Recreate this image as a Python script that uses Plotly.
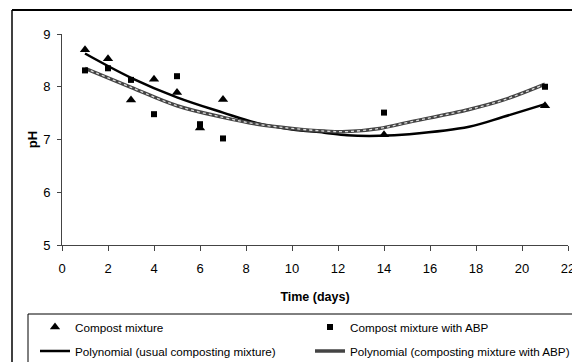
import plotly.graph_objects as go

# ---- data ----
days = [1, 2, 3, 4, 5, 6, 7, 14, 21]
ph_compost = [8.70, 8.53, 7.75, 8.14, 7.89, 7.22, 7.76, 7.09, 7.64]
ph_abp = [8.31, 8.35, 8.13, 7.48, 8.20, 7.29, 7.02, 7.51, 8.00]

trend_x = [1, 3, 5, 7, 8.5, 10, 11.4, 12.4, 13.8, 15.1, 17.7, 19.2, 21]
trend_usual = [8.63, 8.17, 7.80, 7.51, 7.31, 7.19, 7.13, 7.08, 7.07, 7.10, 7.24, 7.43, 7.67]
trend_abp = [8.35, 7.99, 7.64, 7.42, 7.29, 7.21, 7.16, 7.15, 7.21, 7.33, 7.57, 7.75, 8.05]

x_ticks = list(range(0, 23, 2))
y_ticks = [5, 6, 7, 8, 9]
grid_vals = [6, 7, 8]

# ---- layout geometry ----
W, H = 572, 362
L, R, T, B = 62, 4, 34, 117
PW = W - L - R
PH = H - T - B


def px(x):
    return (x - L) / PW


def py(y):
    return (H - B - y) / PH


FONT = "Liberation Sans, Arial, sans-serif"

fig = go.Figure()
fig.add_trace(go.Scatter(
    x=trend_x, y=trend_usual, mode="lines",
    name="Polynomial (usual composting mixture)",
    line=dict(color="black", width=2.5, shape="spline"),
    legend="legend2"))
fig.add_trace(go.Scatter(
    x=trend_x, y=trend_abp, mode="lines",
    name="Polynomial (composting mixture with ABP)",
    line=dict(color="#444444", width=3.5, shape="spline"),
    legend="legend2"))
fig.add_trace(go.Scatter(
    x=trend_x, y=trend_abp, mode="lines", showlegend=False, hoverinfo="skip",
    line=dict(color="#dcdcdc", width=1.3, dash="dot", shape="spline")))
fig.add_trace(go.Scatter(
    x=days, y=ph_compost, mode="markers", name="Compost mixture",
    marker=dict(symbol="triangle-up", size=9, color="black"),
    legend="legend"))
fig.add_trace(go.Scatter(
    x=days, y=ph_abp, mode="markers", name="Compost mixture with ABP",
    marker=dict(symbol="square", size=6, color="black"),
    legend="legend"))

axis_color = "#444444"
frame = dict(type="line", xref="paper", yref="paper",
             line=dict(color="black", width=1.5), layer="above")
fig.update_layout(
    width=W, height=H,
    margin=dict(l=L, r=R, t=T, b=B, autoexpand=False),
    paper_bgcolor="white", plot_bgcolor="white",
    font=dict(family=FONT, color="black", size=12),
    xaxis=dict(
        range=[0, 22], tickvals=x_ticks, ticks="outside", ticklen=5,
        tickcolor=axis_color, showline=True, linecolor=axis_color, linewidth=1,
        showgrid=False, zeroline=False, tickfont=dict(size=13),
        ticklabelstandoff=6, ticklabeloverflow="allow",
        title=dict(text="Time (days)", font=dict(size=12.5, weight="bold"), standoff=17),
    ),
    yaxis=dict(
        range=[5, 9], tickvals=y_ticks, ticks="outside", ticklen=4,
        tickcolor=axis_color, showline=True, linecolor=axis_color, linewidth=1,
        showgrid=False, zeroline=False, tickfont=dict(size=13),
        ticklabelstandoff=4,
        title=dict(text="pH", font=dict(size=13, weight="bold"), standoff=2),
    ),
    yaxis2=dict(
        overlaying="y", anchor="x", range=[5, 9], tickvals=grid_vals,
        showgrid=True, gridcolor="black", gridwidth=1, showticklabels=False,
        ticks="", showline=False, zeroline=False,
    ),
    legend=dict(
        orientation="h", x=px(35), xanchor="left", y=py(327), yanchor="middle",
        entrywidth=230, font=dict(size=11.7), bgcolor="rgba(0,0,0,0)",
        borderwidth=0, traceorder="normal",
    ),
    legend2=dict(
        orientation="h", x=px(35), xanchor="left", y=py(351), yanchor="middle",
        entrywidth=230, font=dict(size=11.7), bgcolor="rgba(0,0,0,0)",
        borderwidth=0, traceorder="normal",
    ),
    shapes=[
        # outer chart frame (left and top edges)
        dict(frame, x0=px(12), x1=px(12), y0=py(10), y1=py(400)),
        dict(frame, x0=px(12), x1=px(640), y0=py(10), y1=py(10),
             line=dict(color="black", width=2)),
        # legend box
        dict(type="line", xref="paper", yref="paper", x0=px(28), x1=px(28),
             y0=py(314), y1=py(400), line=dict(color="black", width=1)),
        dict(type="line", xref="paper", yref="paper", x0=px(28), x1=px(640),
             y0=py(314), y1=py(314), line=dict(color="black", width=1)),
    ],
    showlegend=True,
)

fig.write_html("out.html", config={"displayModeBar": False},
               post_script="document.body.style.margin='0';")
